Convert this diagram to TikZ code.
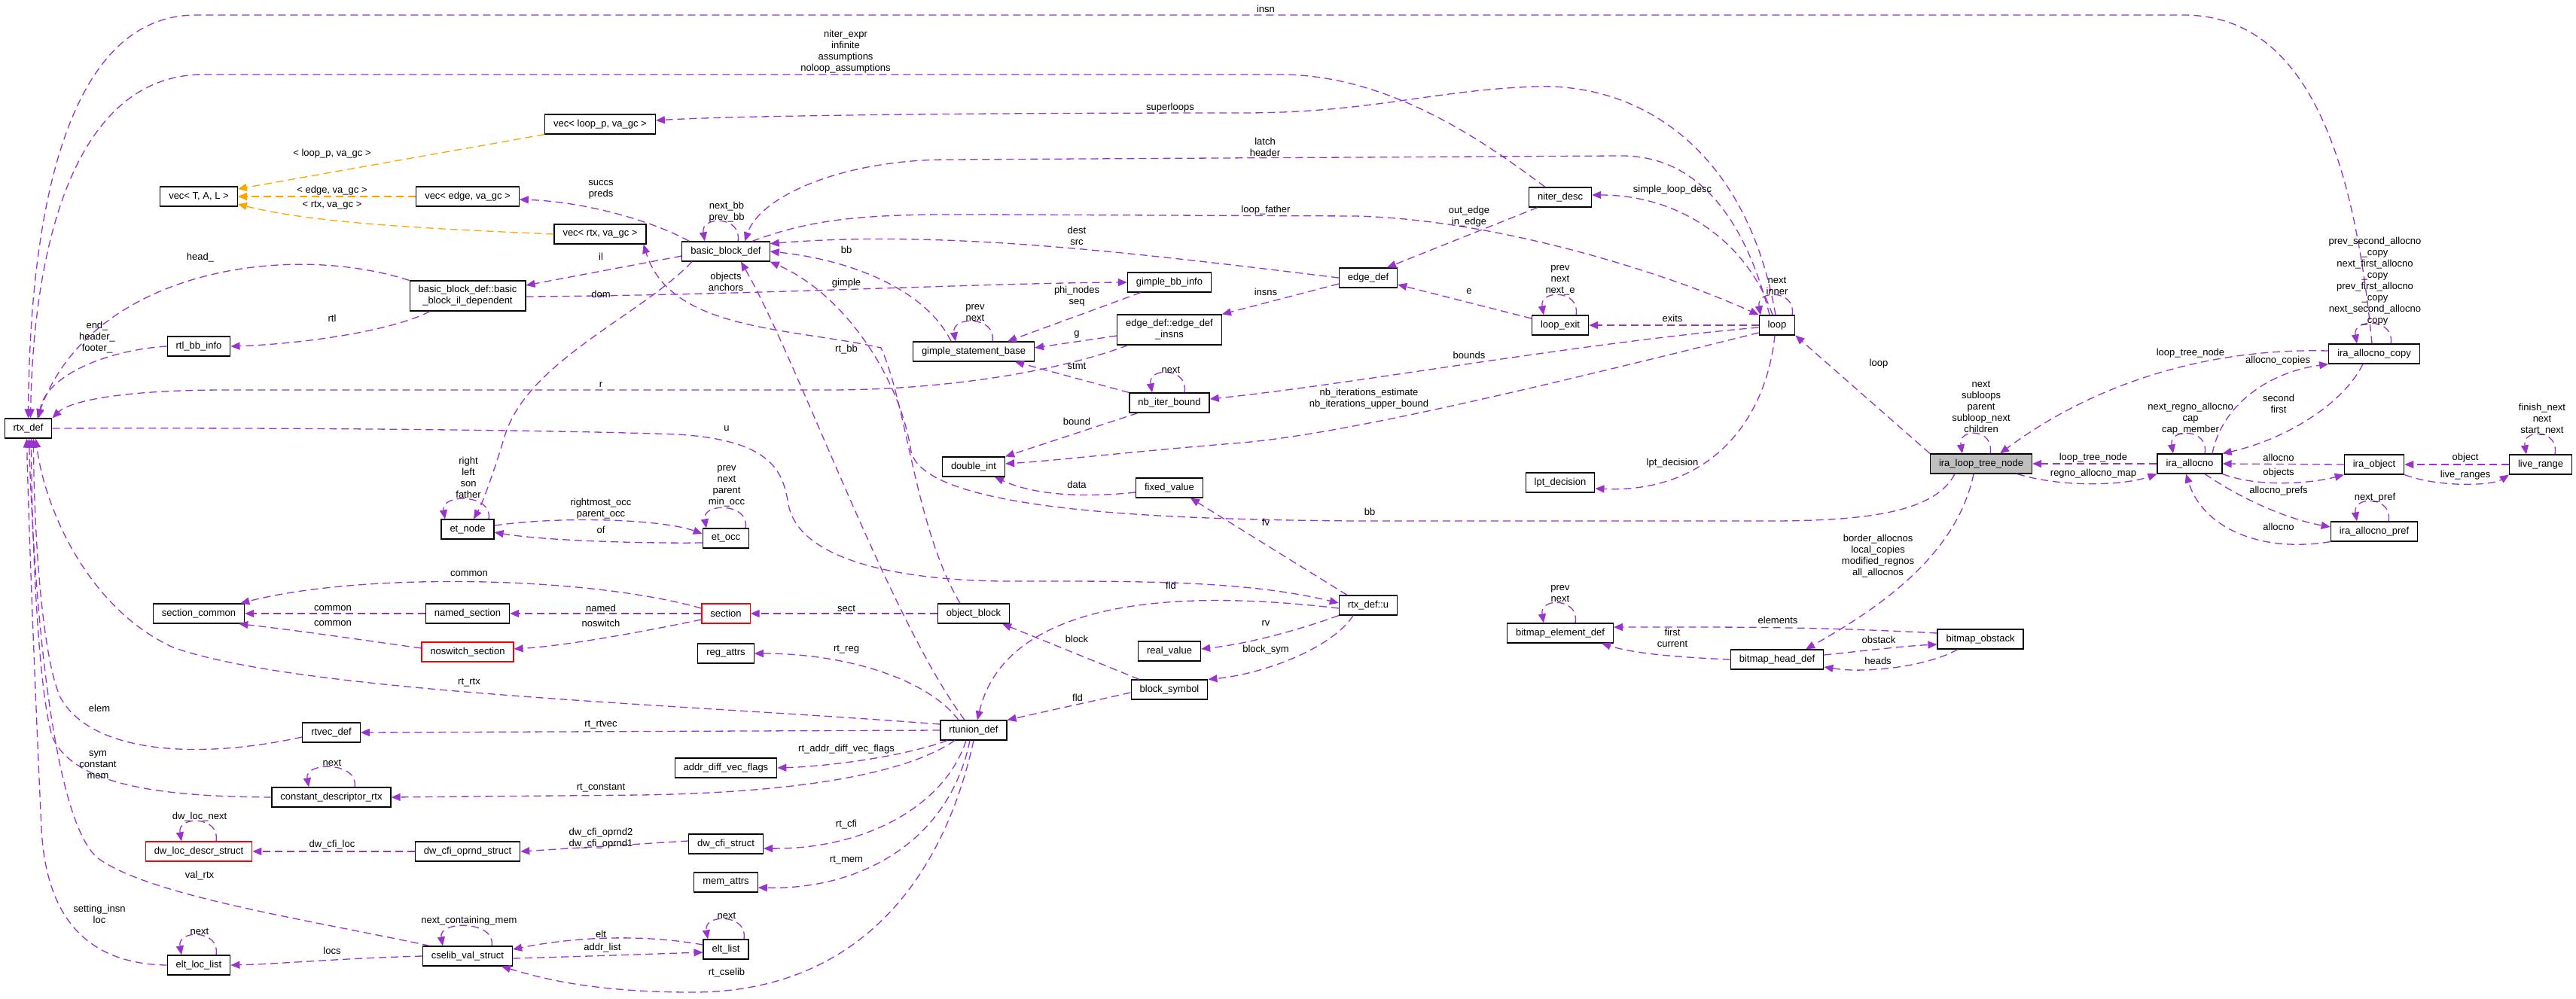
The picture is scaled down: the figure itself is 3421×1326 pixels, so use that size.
\documentclass[tikz,border=0pt]{standalone}
\usepackage{fontspec}
\setmainfont{Liberation Sans}
\usepackage{xcolor}
\usepackage{tikz}
\usetikzlibrary{arrows.meta}
\definecolor{edgepurple}{HTML}{9A32CD}
\definecolor{tmplorange}{HTML}{FFA500}
\definecolor{rootgray}{HTML}{BFBFBF}

\begin{document}
\begin{tikzpicture}[x=1pt, y=-1pt, >={Stealth[inset=0pt,length=12pt,width=10pt]},
  cls/.style={draw=black, line width=1.2pt, fill=white, font=\fontsize{13}{15}\selectfont, align=center, minimum height=26pt, inner xsep=11.5pt, inner ysep=2pt},
  root/.style={cls, fill=rootgray},
  bad/.style={cls, draw=red},
  edge/.style={->, draw=edgepurple, line width=1.3pt, dash pattern=on 10pt off 6pt},
  tmpl/.style={edge, draw=tmplorange},
  lbl/.style={font=\fontsize{13}{15}\selectfont, align=center, inner sep=0pt}]
\path[use as bounding box, fill=white] (0,0) rectangle (3421,1326);

% --- Classes, column by column ---
\node[cls] (rtxdef) at (37.5,569) {rtx\_def};
\node[cls] (vecT) at (264,261) {vec< T, A, L >};
\node[cls] (rtlbb) at (264,460) {rtl\_bb\_info};
\node[cls] (seccom) at (264,815) {section\_common};
\node[bad] (dwloc) at (264,1131) {dw\_loc\_descr\_struct};
\node[cls] (eltloc) at (264,1282) {elt\_loc\_list};
\node[cls] (rtvec) at (440,973) {rtvec\_def};
\node[cls] (constdesc) at (440,1059) {constant\_descriptor\_rtx};
\node[cls] (vecedge) at (621,261) {vec< edge, va\_gc >};
\node[cls, minimum height=40pt] (bbil) at (621,393) {basic\_block\_def::basic\\\_block\_il\_dependent};
\node[cls] (etnode) at (621,703) {et\_node};
\node[cls] (namedsec) at (621,815) {named\_section};
\node[bad] (noswsec) at (621,866) {noswitch\_section};
\node[cls] (dwcfiop) at (621,1131) {dw\_cfi\_oprnd\_struct};
\node[cls] (cselib) at (621,1270) {cselib\_val\_struct};
\node[cls] (vecloop) at (797,165) {vec< loop\_p, va\_gc >};
\node[cls] (vecrtx) at (797,311) {vec< rtx, va\_gc >};
\node[cls] (bbd) at (964,334) {basic\_block\_def};
\node[cls] (etocc) at (964,715) {et\_occ};
\node[bad] (section) at (964,815) {section};
\node[cls] (regattrs) at (964,868) {reg\_attrs};
\node[cls] (addrdiff) at (964,1020) {addr\_diff\_vec\_flags};
\node[cls] (dwcfi) at (964,1121) {dw\_cfi\_struct};
\node[cls] (memattrs) at (964,1172) {mem\_attrs};
\node[cls] (eltlist) at (964,1261) {elt\_list};
\node[cls] (gsb) at (1293,467) {gimple\_statement\_base};
\node[cls] (dblint) at (1293,620) {double\_int};
\node[cls] (objblock) at (1293,815) {object\_block};
\node[cls] (rtunion) at (1293,970) {rtunion\_def};
\node[cls] (gbbinfo) at (1553,375) {gimple\_bb\_info};
\node[cls, minimum height=40pt] (edgeinsns) at (1553,438) {edge\_def::edge\_def\\\_insns};
\node[cls] (nbiter) at (1553,535) {nb\_iter\_bound};
\node[cls] (fixedval) at (1553,648) {fixed\_value};
\node[cls] (realval) at (1553,865) {real\_value};
\node[cls] (blocksym) at (1553,916) {block\_symbol};
\node[cls] (edgedef) at (1817,369) {edge\_def};
\node[cls] (rtxu) at (1817,804) {rtx\_def::u};
\node[cls] (niterdesc) at (2072,262) {niter\_desc};
\node[cls] (loopexit) at (2072,432) {loop\_exit};
\node[cls] (lptdec) at (2072,641) {lpt\_decision};
\node[cls] (bmelem) at (2072,841) {bitmap\_element\_def};
\node[cls] (loopn) at (2360,432) {loop};
\node[cls] (bmhead) at (2360,876) {bitmap\_head\_def};
\node[root] (irltn) at (2631,616) {ira\_loop\_tree\_node};
\node[cls] (bmobst) at (2630,849) {bitmap\_obstack};
\node[cls] (iraalloc) at (2908,616) {ira\_allocno};
\node[cls] (iracopy) at (3153,470) {ira\_allocno\_copy};
\node[cls] (iraobj) at (3153,617) {ira\_object};
\node[cls] (irapref) at (3153,706) {ira\_allocno\_pref};
\node[cls] (liverange) at (3374,617) {live\_range};

% --- Template instances (orange) ---
\draw[tmpl] (vecloop.south west) -- ([yshift=10]vecT.east);
\draw[tmpl] (vecedge.west) -- (vecT.east);
\draw[tmpl] (vecrtx.west) .. controls (600,305) and (420,298) .. ([yshift=-10]vecT.east);

% --- Into rtx_def from above ---
\draw[edge] ([xshift=-3]iracopy.north) .. controls (3130,250) and (3080,20) .. (2900,20) -- (260,20) .. controls (100,20) and (40,250) .. (rtxdef.north);
\draw[edge] ([xshift=-20]niterdesc.north) .. controls (1980,195) and (1850,99) .. (1700,99) -- (270,99) .. controls (110,99) and (45,300) .. ([xshift=3]rtxdef.north);
\draw[edge] (bbil.north west) .. controls (380,320) and (120,360) .. ([xshift=12]rtxdef.north);
\draw[edge] (rtlbb.west) .. controls (140,465) and (60,500) .. ([xshift=14]rtxdef.north);
\draw[edge] ([xshift=-55]edgeinsns.south) .. controls (1400,495) and (1250,518) .. (1100,518) -- (300,518) .. controls (150,518) and (90,535) .. (rtxdef.north east);
% --- Into rtx_def from below ---
\draw[edge] ([yshift=8]rtunion.west) .. controls (900,935) and (400,920) .. (230,860) .. controls (120,810) and (60,680) .. ([xshift=10]rtxdef.south);
\draw[edge] ([yshift=-6]rtvec.west) .. controls (260,1010) and (120,1000) .. (80,926) .. controls (55,870) and (45,700) .. ([xshift=7]rtxdef.south);
\draw[edge] (constdesc.west) .. controls (220,1058) and (100,1045) .. (70,980) .. controls (50,920) and (42,700) .. ([xshift=4]rtxdef.south);
\draw[edge] ([xshift=-50]cselib.north) .. controls (400,1220) and (200,1190) .. (130,1140) .. controls (70,1090) and (45,800) .. ([xshift=1]rtxdef.south);
\draw[edge] (eltloc.west) .. controls (100,1280) and (60,1200) .. (55,1100) .. controls (48,950) and (38,700) .. ([xshift=-2]rtxdef.south);
\draw[edge] (rtxdef.east) .. controls (300,568) and (700,570) .. (900,577) .. controls (1030,585) and (1040,630) .. (1047,670) .. controls (1060,740) and (1180,770) .. (1330,772) .. controls (1500,772) and (1650,770) .. ([yshift=3]rtxu.west);

% --- basic_block_def and friends ---
\draw[edge] ([xshift=16]bbd.north) .. controls +(6,-34) and +(-6,-34) .. ([xshift=-28]bbd.north);
\draw[edge] ([xshift=10]bbd.north west) .. controls (870,295) and (780,268) .. ([yshift=-4]vecedge.east);
\draw[edge] ([yshift=-6]bbd.west) -- ([yshift=14]bbil.east);
\draw[edge] ([xshift=-45]bbd.south) .. controls (850,420) and (700,480) .. (670,580) .. controls (655,630) and (640,670) .. ([xshift=8]etnode.north);
\draw[edge] ([yshift=-1]bbil.east) .. controls (1000,392) and (1300,376) .. (gbbinfo.west);
\draw[edge] ([xshift=-50]bbil.south) .. controls (520,440) and (400,457) .. (rtlbb.east);
\draw[edge] ([xshift=35]bbd.north) .. controls (1080,290) and (1150,284) .. (1300,285) -- (1800,287) .. controls (2000,292) and (2230,370) .. (loopn.north west);
\draw[edge] (edgedef.west) .. controls (1500,335) and (1250,305) .. (bbd.10);
\draw[edge] ([xshift=-30]gsb.north) .. controls (1230,385) and (1130,345) .. (bbd.east);
\draw[edge] ([xshift=-18]objblock.north) .. controls (1215,700) and (1205,540) .. (1170,462) .. controls (1050,435) and (890,440) .. ([xshift=-4]vecrtx.south east);
\draw[edge] ([xshift=-12]rtunion.north) .. controls (1180,820) and (1060,480) .. ([xshift=20]bbd.south);
\draw[edge] ([xshift=-35]irltn.south) .. controls (2570,680) and (2480,692) .. (2350,692) -- (1800,692) .. controls (1550,690) and (1230,680) .. (1210,600) .. controls (1195,500) and (1120,390) .. (bbd.south east);

% --- gimple / edge_def ---
\draw[edge] ([xshift=25]gsb.north) .. controls +(6,-34) and +(-6,-34) .. ([xshift=-24]gsb.north);
\draw[edge] ([xshift=-38]gbbinfo.south) -- ([xshift=45]gsb.north);
\draw[edge] ([yshift=-8]edgedef.west) -- (edgeinsns.north east);
\draw[edge] ([yshift=-8]edgeinsns.west) -- ([yshift=5]gsb.east);
\draw[edge] (nbiter.north west) -- ([xshift=55]gsb.south);
\draw[edge] ([xshift=20]nbiter.north) .. controls +(6,-34) and +(-6,-34) .. ([xshift=-23]nbiter.north);
\draw[edge] ([xshift=-42]nbiter.south) -- (dblint.north east);
\draw[edge] ([yshift=-6]fixedval.west) .. controls (1430,662) and (1370,656) .. ([xshift=28]dblint.south);
\draw[edge] ([xshift=-28]rtxu.north) -- ([xshift=28]fixedval.south);

% --- loop ---
\draw[edge] ([xshift=20]loopn.north) .. controls +(6,-34) and +(-6,-34) .. ([xshift=-22]loopn.north);
\draw[edge] ([xshift=-2]loopn.north) .. controls (2320,200) and (2180,110) .. (2039,115) .. controls (1900,120) and (1820,150) .. (1650,150) .. controls (1200,150) and (950,155) .. ([yshift=5]vecloop.east);
\draw[edge] ([xshift=-10]loopn.north) .. controls (2320,300) and (2260,205) .. (2150,207) -- (1260,212) .. controls (1120,212) and (1010,260) .. ([xshift=25]bbd.north);
\draw[edge] ([xshift=-6]loopn.north) .. controls (2320,320) and (2230,259) .. ([yshift=3]niterdesc.east);
\draw[edge] ([xshift=-30]niterdesc.south) -- ([xshift=25]edgedef.north);
\draw[edge] ([xshift=21]loopexit.north) .. controls +(6,-34) and +(-6,-34) .. ([xshift=-22]loopexit.north);
\draw[edge] ([yshift=9]loopexit.west) -- ([yshift=-9]edgedef.east);
\draw[edge] (loopn.west) -- (loopexit.east);
\draw[edge] ([yshift=-3]loopn.west) .. controls (2100,455) and (1800,510) .. ([yshift=5]nbiter.east);
\draw[edge] ([yshift=-10]loopn.west) .. controls (2100,500) and (1800,575) .. (1650,588) .. controls (1500,600) and (1400,612) .. ([yshift=4]dblint.east);
\draw[edge] ([xshift=-3]loopn.south) .. controls (2345,560) and (2270,655) .. ([yshift=-8]lptdec.east);

% --- rtx_def::u and rtunion_def ---
\draw[edge] ([yshift=-4]rtxu.west) .. controls (1500,775) and (1330,820) .. ([xshift=5]rtunion.north);
\draw[edge] (rtxu.south west) .. controls (1730,835) and (1660,855) .. ([yshift=3]realval.east);
\draw[edge] ([xshift=-20]rtxu.south) .. controls (1770,860) and (1680,895) .. (blocksym.north east);
\draw[edge] ([yshift=-4]blocksym.west) -- (rtunion.north east);
\draw[edge] ([xshift=-40]blocksym.north) -- ([xshift=38]objblock.south);
\draw[edge] (objblock.west) -- (section.east);
\draw[edge] (rtunion.west) -- (rtvec.east);
\draw[edge] ([xshift=-20]rtunion.north) .. controls (1230,900) and (1120,868) .. (regattrs.east);
\draw[edge] ([xshift=-35]rtunion.south) .. controls (1200,1005) and (1100,1018) .. (addrdiff.east);
\draw[edge] ([xshift=-25]rtunion.south) .. controls (1200,1030) and (1050,1053) .. (850,1056) -- (constdesc.east);
\draw[edge] ([xshift=-10]rtunion.south) .. controls (1255,1070) and (1150,1128) .. ([yshift=-6]dwcfi.east);
\draw[edge] ([xshift=-5]rtunion.south) .. controls (1260,1120) and (1140,1182) .. ([yshift=-7]memattrs.east);
\draw[edge] (rtunion.south) .. controls (1250,1180) and (1130,1318) .. (920,1318) .. controls (790,1318) and (720,1300) .. ([xshift=45]cselib.south);

% --- sections ---
\draw[edge] (section.west) -- (namedsec.east);
\draw[edge] ([yshift=-8]section.west) .. controls (850,840) and (750,858) .. ([yshift=4]noswsec.east);
\draw[edge] ([yshift=7]section.west) .. controls (780,765) and (480,760) .. ([xshift=-6]seccom.north east);
\draw[edge] (namedsec.west) -- (seccom.east);
\draw[edge] ([yshift=5]noswsec.west) .. controls (480,850) and (400,838) .. ([xshift=-8]seccom.south east);

% --- et_node / et_occ ---
\draw[edge] ([xshift=28]etnode.north) .. controls +(6,-34) and +(-6,-34) .. ([xshift=-30]etnode.north);
\draw[edge] ([yshift=5]etnode.east) .. controls (750,685) and (880,690) .. ([yshift=6]etocc.west);
\draw[edge] ([yshift=-6]etocc.west) .. controls (850,722) and (720,718) .. ([yshift=-4]etnode.east);
\draw[edge] ([xshift=26]etocc.north) .. controls +(6,-34) and +(-6,-34) .. ([xshift=-26]etocc.north);

% --- lower left ---
\draw[edge] ([xshift=31]constdesc.north) .. controls +(6,-34) and +(-6,-34) .. ([xshift=-30]constdesc.north);
\draw[edge] ([xshift=23]dwloc.north) .. controls +(6,-34) and +(-6,-34) .. ([xshift=-23]dwloc.north);
\draw[edge] (dwcfiop.west) -- (dwloc.east);
\draw[edge] ([yshift=4]dwcfi.west) -- (dwcfiop.east);
\draw[edge] ([xshift=32]cselib.north) .. controls +(6,-34) and +(-6,-34) .. ([xshift=-33]cselib.north);
\draw[edge] ([yshift=6]eltlist.west) .. controls (850,1240) and (760,1245) .. ([yshift=9]cselib.east);
\draw[edge] ([yshift=-3]cselib.east) .. controls (790,1270) and (870,1267) .. ([yshift=-4]eltlist.west);
\draw[edge] ([xshift=24]eltlist.north) .. controls +(6,-34) and +(-6,-34) .. ([xshift=-24]eltlist.north);
\draw[edge] (cselib.west) .. controls (450,1273) and (380,1280) .. (eltloc.east);
\draw[edge] ([xshift=23]eltloc.north) .. controls +(6,-34) and +(-6,-34) .. ([xshift=-23]eltloc.north);

% --- ira side ---
\draw[edge] ([xshift=12]irltn.north) .. controls +(6,-34) and +(-6,-34) .. ([xshift=-25]irltn.north);
\draw[edge] (irltn.north west) -- (loopn.south east);
\draw[edge] ([yshift=4]iracopy.west) .. controls (2930,462) and (2780,510) .. ([xshift=25]irltn.north);
\draw[edge] ([xshift=22]iracopy.north) .. controls +(6,-34) and +(-6,-34) .. ([xshift=-23]iracopy.north);
\draw[edge] ([xshift=30]iraalloc.north) .. controls (2950,540) and (3010,495) .. (iracopy.south west);
\draw[edge] ([xshift=-15]iracopy.south) .. controls (3110,540) and (3030,585) .. (iraalloc.north east);
\draw[edge] ([xshift=20]iraalloc.north) .. controls +(6,-34) and +(-6,-34) .. ([xshift=-22]iraalloc.north);
\draw[edge] (iraalloc.west) -- (irltn.east);
\draw[edge] ([xshift=-20]irltn.south east) .. controls (2740,648) and (2820,645) .. (iraalloc.south west);
\draw[edge] (iraobj.west) -- (iraalloc.east);
\draw[edge] (iraalloc.south east) .. controls (3000,648) and (3070,642) .. (iraobj.south west);
\draw[edge] (liverange.west) -- (iraobj.east);
\draw[edge] (iraobj.south east) .. controls (3240,648) and (3310,645) .. (liverange.south west);
\draw[edge] ([xshift=19]liverange.north) .. controls +(6,-34) and +(-6,-34) .. ([xshift=-19]liverange.north);
\draw[edge] ([xshift=20]iraalloc.south) .. controls (2980,665) and (3040,690) .. ([yshift=6]irapref.west);
\draw[edge] (irapref.south west) .. controls (3000,735) and (2925,700) .. ([xshift=-5]iraalloc.south);
\draw[edge] ([xshift=19]irapref.north) .. controls +(6,-34) and +(-6,-34) .. ([xshift=-23]irapref.north);

% --- bitmaps ---
\draw[edge] ([xshift=-10]irltn.south) .. controls (2600,730) and (2510,800) .. ([xshift=38]bmhead.north);
\draw[edge] ([xshift=20]bmelem.north) .. controls +(6,-34) and +(-6,-34) .. ([xshift=-22]bmelem.north);
\draw[edge] ([yshift=8]bmobst.west) .. controls (2400,832) and (2300,833) .. ([yshift=8]bmelem.east);
\draw[edge] (bmhead.west) .. controls (2200,872) and (2160,865) .. ([xshift=55]bmelem.south);
\draw[edge] ([yshift=6]bmhead.east) .. controls (2480,864) and (2530,858) .. ([yshift=-7]bmobst.west);
\draw[edge] ([xshift=-30]bmobst.south) .. controls (2560,885) and (2480,895) .. ([yshift=-10]bmhead.east);

% --- Member labels ---
\foreach \x/\y/\t [count=\i] in {
  1681/12/insn, 1123/68.5/{niter\_expr\\infinite\\assumptions\\noloop\_assumptions},
  1554/143/superloops, 441/204/{< loop\_p, va\_gc >}, 1680/195.5/{latch\\header},
  441/253/{< edge, va\_gc >}, 441/273/{< rtx, va\_gc >}, 798/251.5/{succs\\preds},
  965/282/{next\_bb\\prev\_bb}, 1681/279/loop\_father, 2221/252/simple\_loop\_desc,
  1951/287.5/{out\_edge\\in\_edge}, 1430/313.5/{dest\\src}, 266/342/head\_, 798/341/il,
  1124/332/bb, 2072/372/{prev\\next\\next\_e}, 2360/379.5/{next\\inner},
  964/374/{objects\\anchors}, 1124/376/gimple, 1430/394/{phi\_nodes\\seq}, 1681/388/insns,
  798/391/dom, 1951/387/e, 1295/415.5/{prev\\next}, 441/423/rtl, 2221/423/exits,
  129/448/{end\_\\header\_\\footer\_}, 1430/444/g, 1430/486/stmt, 1555/491/next,
  2495/483/loop, 2631/540.5/{next\\subloops\\parent\\subloop\_next\\children},
  3154/374/{prev\_second\_allocno\\\_copy\\next\_first\_allocno\\\_copy\\prev\_first\_allocno\\\_copy\\next\_second\_allocno\\\_copy},
  2909/469/loop\_tree\_node, 3025/479/allocno\_copies, 3026/536.5/{second\\first},
  2909/556/{next\_regno\_allocno\\cap\\cap\_member}, 3376/557/{finish\_next\\next\\start\_next},
  1951/472/bounds, 1124/464/rt\_bb, 798/511/r,
  1818/529.5/{nb\_iterations\_estimate\\nb\_iterations\_upper\_bound},
  622/634/{right\\left\\son\\father}, 1430/560/bound, 965/569/u,
  798/675.5/{rightmost\_occ\\parent\_occ}, 798/704/of, 965/646/{prev\\next\\parent\\min\_occ},
  1430/644/data, 2221/615/lpt\_decision, 2780/608/loop\_tree\_node, 2780/629/regno\_allocno\_map,
  3026/608/allocno, 3026/628/objects, 3274/608/object, 3274/631/live\_ranges,
  3026/652/allocno\_prefs, 3154/661/next\_pref, 3026/700/allocno, 1681/694/fv, 1819/680/bb,
  2494/738.5/{border\_allocnos\\local\_copies\\modified\_regnos\\all\_allocnos},
  2072/788.5/{prev\\next}, 2361/824/elements, 2221/847.5/{first\\current}, 2495/850/obstack,
  2494/878/heads, 623/762/common, 442/808/common, 798/808/named, 442/828/common,
  798/828/noswitch, 1124/808/sect, 623/907/rt\_rtx, 1555/778/fld, 1681/828/rv, 1430/849/block,
  1124/863/rt\_reg, 1681/863/block\_sym, 1431/927/fld, 132/941/elem, 798/963/rt\_rtvec,
  130/1016/{sym\\constant\\mem}, 441/1013/next, 798/1047/rt\_constant,
  1124/995/rt\_addr\_diff\_vec\_flags, 265/1085/dw\_loc\_next, 441/1122/dw\_cfi\_loc,
  798/1113.5/{dw\_cfi\_oprnd2\\dw\_cfi\_oprnd1}, 1124/1095/rt\_cfi, 265/1163/val\_rtx,
  1124/1143/rt\_mem, 132/1214.5/{setting\_insn\\loc}, 623/1223/next\_containing\_mem,
  265/1237/next, 965/1216/next, 798/1241/elt, 800/1259/addr\_list, 441/1263/locs,
  965/1292/rt\_cselib} {
  \node[lbl] (lab\i) at (\x,\y) {\t};
}
\end{tikzpicture}
\end{document}
